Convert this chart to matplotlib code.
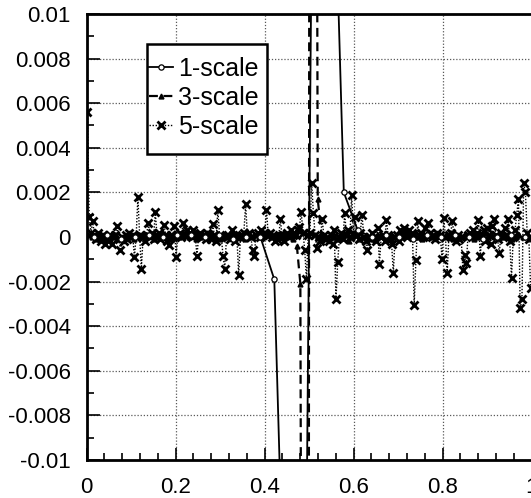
import numpy as np
import matplotlib
matplotlib.use('Agg')
import matplotlib.pyplot as plt
from matplotlib.patches import Rectangle
from matplotlib.ticker import FixedLocator, MultipleLocator

plt.rcParams['font.family'] = ['Liberation Sans', 'DejaVu Sans']

# ---------------- data ----------------
series_names = ['1-scale', '3-scale', '5-scale']

# sample counts of each level (cell-centred samples on [0, 1])
n1, n3, n5 = 32, 128, 256

y1 = [0.0000, 0.0001, -0.0001, 0.0000, 0.0001, 0.0000, 0.0001, 0.0001,
      0.0000, 0.0001, -0.0001, 0.0000, 0.0000, -0.0019, -0.0235, -0.036,
      0.036, 0.0235, 0.0020, 0.0003, 0.0000, 0.0001, 0.0000, -0.0001,
      0.0001, 0.0000, 0.0001, 0.0000, -0.0001, 0.0000, 0.0001, 0.0000]

y3 = [0.0001, 0.0000, -0.0001, 0.0001, 0.0000, 0.0002, -0.0001, 0.0000,
      0.0001, -0.0001, 0.0000, 0.0001, 0.0000, -0.0001, 0.0001, 0.0000,
      0.0001, 0.0000, 0.0001, -0.0001, 0.0000, 0.0002, 0.0001, 0.0000,
      -0.0001, 0.0001, 0.0000, 0.0001, 0.0002, 0.0000, 0.0001, -0.0001,
      0.0000, 0.0001, 0.0002, 0.0000, 0.0001, 0.0000, -0.0001, 0.0001,
      0.0000, 0.0001, 0.0002, 0.0001, 0.0000, -0.0001, 0.0001, 0.0000,
      0.0001, 0.0002, 0.0000, 0.0001, 0.0001, 0.0000, 0.0001, 0.0002,
      0.0001, 0.0000, 0.0001, -0.0001, -0.0004, -0.0021, -0.064, -0.12,
      0.12, 0.064, 0.0017, 0.0002, 0.0000, -0.0001, 0.0001, 0.0000,
      -0.0001, 0.0000, 0.0001, -0.0002, 0.0000, 0.0001, -0.0001, 0.0000,
      0.0001, 0.0000, -0.0001, 0.0000, 0.0001, 0.0000, -0.0001, 0.0001,
      0.0000, 0.0001, 0.0000, 0.0002, 0.0001, 0.0000, 0.0001, 0.0000,
      -0.0001, 0.0000, 0.0001, 0.0000, 0.0001, 0.0002, 0.0000, 0.0001,
      0.0000, -0.0001, 0.0000, 0.0001, 0.0000, 0.0001, 0.0000, -0.0001,
      0.0000, 0.0001, 0.0002, 0.0000, 0.0001, 0.0000, 0.0001, 0.0000,
      0.0001, 0.0000, -0.0001, 0.0000, 0.0001, 0.0000, 0.0001, 0.0000]

y5 = [0.0056, 0.0009, 0.0002, 0.0007, 0.0001, -0.0001, 0.0002, 0.0000,
      -0.0002, 0.0001, -0.0003, -0.0001, -0.0002, 0.0001, -0.0003, 0.0000,
      0.0001, 0.0005, -0.0001, -0.0006, 0.0000, -0.0002, 0.0001, -0.0001,
      0.0002, 0.0000, 0.0001, -0.0009, 0.0000, 0.0018, 0.0001, -0.00145,
      0.0000, -0.0002, 0.0001, 0.00065, 0.0000, 0.0002, -0.0001, 0.00112,
      0.0001, 0.0002, -0.0001, 0.0000, 0.00055, 0.0001, -0.0002, -0.00034,
      0.0001, 0.0000, 0.0005, -0.0009, 0.0001, 0.0002, 0.0000, 0.00064,
      0.0001, 0.0003, 0.0001, 0.0002, 0.0000, 0.0003, 0.0001, -0.00087,
      0.0001, 0.0002, 0.0000, 0.0001, -0.0001, 0.0002, 0.0001, -0.0001,
      0.0006, 0.0001, -0.0002, 0.00122, 0.0001, 0.0000, -0.00083, -0.00143,
      0.0000, 0.0001, -0.0001, 0.0003, 0.0001, -0.0002, 0.0000, -0.00171,
      0.0000, 0.0001, 0.0002, 0.00147, 0.0001, 0.0002, 0.0000, -0.00057,
      -0.00083, 0.0001, 0.0002, 0.0000, 0.0003, 0.0001, 0.0002, 0.00123,
      0.0001, 0.0002, 0.0000, 0.0001, -0.0002, -0.0001, 0.0000, 0.0008,
      0.0000, -0.0002, 0.0001, 0.0002, 0.0000, 0.0003, 0.0001, 0.0002,
      0.0001, 0.0003, 0.00047, 0.0011, 0.0002, -0.00057, -0.0019, 0.0001,
      0.0002, 0.0024, 0.00107, 0.0001, -0.0005, 0.0000, -0.0002, 0.0008,
      0.0001, -0.0001, 0.0000, -0.0002, 0.0001, -0.0003, 0.0003, -0.0028,
      -0.0011, 0.0000, 0.0002, -0.0001, 0.00107, 0.0001, 0.0003, 0.0000,
      0.0019, 0.0002, 0.0009, 0.0001, -0.0001, 0.0002, 0.0010, 0.0000,
      -0.0002, -0.00057, 0.0000, -0.0001, 0.0002, 0.0000, -0.0002, 0.0004,
      -0.00119, 0.0000, 0.0001, -0.0002, 0.00077, 0.0001, -0.0001, -0.0003,
      -0.00161, 0.0000, 0.0001, -0.0002, 0.0003, 0.0001, 0.0004, 0.0002,
      0.0000, 0.0003, 0.0001, 0.0002, -0.00305, -0.00101, 0.0007, 0.0001,
      0.0002, 0.0000, 0.0004, 0.0001, 0.00065, 0.0002, 0.0000, 0.0001,
      -0.0001, 0.0002, 0.0000, 0.0001, -0.00098, 0.00087, 0.0000, -0.00161,
      0.0001, 0.0002, 0.0007, 0.0000, -0.0002, 0.0001, -0.0001, 0.0000,
      -0.00149, -0.0008, -0.00116, 0.0001, 0.0002, 0.0000, 0.0003, 0.0001,
      0.0002, 0.00077, -0.00087, 0.0001, 0.0003, -0.0002, 0.0004, 0.0001,
      -0.0003, 0.0005, 0.0008, 0.0001, -0.0001, -0.00071, 0.0002, 0.0000,
      0.0004, 0.0001, 0.0008, -0.0002, -0.00183, 0.0000, 0.0003, 0.0010,
      0.0017, -0.0032, -0.0028, 0.0024, 0.0020, 0.0002, -0.0001, -0.0023]

x1 = (np.arange(n1) + 0.5) / n1
x3 = (np.arange(n3) + 0.5) / n3
x5 = (np.arange(n5) + 0.5) / n5

x_ticks = [0, 0.2, 0.4, 0.6, 0.8, 1.0]
x_tick_labels = ['0', '0.2', '0.4', '0.6', '0.8', '1']
y_ticks = [-0.01, -0.008, -0.006, -0.004, -0.002, 0, 0.002, 0.004, 0.006, 0.008, 0.01]
y_tick_labels = ['-0.01', '-0.008', '-0.006', '-0.004', '-0.002', '0',
                 '0.002', '0.004', '0.006', '0.008', '0.01']

# ---------------- figure ----------------
W, H = 531, 498
fig = plt.figure(figsize=(W / 100, H / 100), dpi=100)
ax = fig.add_axes([86.6 / W, (H - 460) / H, (531.5 - 86.6) / W, 446 / H])

l5, = ax.plot(x5, y5, linestyle=(0, (1, 1.2)), color='black', lw=1.0,
              marker='x', ms=5.6, mew=2.0, mec='black', zorder=3,
              label=series_names[2])
l3, = ax.plot(x3, y3, linestyle=(0, (4, 2.5)), color='black', lw=1.6,
              marker='^', ms=3.5, mfc='black', mec='black', zorder=4,
              label=series_names[1])
l1, = ax.plot(x1, y1, linestyle='-', color='black', lw=1.3,
              marker='o', ms=3.8, mfc='white', mec='black', mew=0.9, zorder=5,
              label=series_names[0])

ax.set_xlim(0, 1.0)
ax.set_ylim(-0.01, 0.01)
ax.xaxis.set_major_locator(FixedLocator(x_ticks))
ax.set_xticklabels(x_tick_labels)
ax.xaxis.set_minor_locator(MultipleLocator(0.04))
ax.yaxis.set_major_locator(FixedLocator(y_ticks))
ax.set_yticklabels(y_tick_labels)
ax.yaxis.set_minor_locator(MultipleLocator(0.001))

ax.tick_params(which='both', direction='in', top=False, right=False, width=1.2,
               labelsize=16)
ax.tick_params(which='major', length=9)
ax.tick_params(which='minor', length=5)
ax.tick_params(axis='y', pad=11.5)
ax.tick_params(axis='x', pad=12.5)

ax.grid(True, which='major', linestyle=(0, (1, 1.5)), color='0.35', lw=0.9)
for s in ax.spines.values():
    s.set_linewidth(2)

# legend box (frame drawn separately to match the reference's padding)
box = Rectangle((147 / W, 1 - 154 / H), 120 / W, 110 / H,
                transform=fig.transFigure, facecolor='white',
                edgecolor='black', linewidth=1.8, zorder=9)
ax.add_artist(box)
box.set_clip_on(False)

leg = ax.legend(handles=[l1, l3, l5], loc='upper left',
                bbox_to_anchor=(149 / W, 1 - 57 / H),
                bbox_transform=fig.transFigure, borderaxespad=0,
                fontsize=18, frameon=False,
                handlelength=0.95, handletextpad=0.2, labelspacing=0.2,
                borderpad=0.0, markerscale=1.0)
leg.set_zorder(10)

fig.savefig('out.png', dpi=100)
